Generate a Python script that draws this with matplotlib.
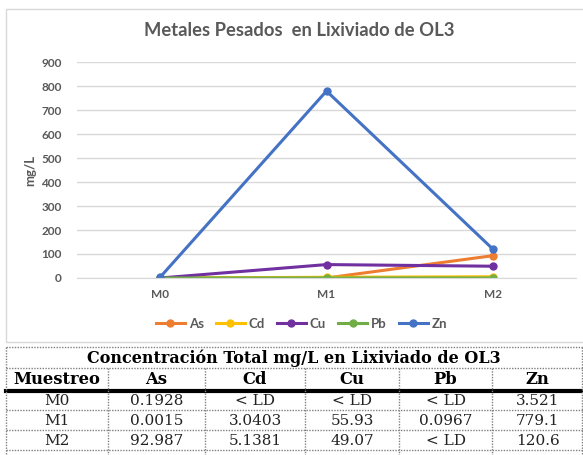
import matplotlib.pyplot as plt
from matplotlib.patches import Rectangle

muestreos = ["M0", "M1", "M2"]
metales = ["As", "Cd", "Cu", "Pb", "Zn"]
colores = ["#ED7D31", "#FFC000", "#7030A0", "#70AD47", "#4472C4"]
# values plotted (< LD drawn as 0)
as_vals = [0.1928, 0.0015, 92.987]
cd_vals = [0, 3.0403, 5.1381]
cu_vals = [0, 55.93, 49.07]
pb_vals = [0, 0.0967, 0]
zn_vals = [3.521, 779.1, 120.6]
series = [as_vals, cd_vals, cu_vals, pb_vals, zn_vals]

y_ticks = [0, 100, 200, 300, 400, 500, 600, 700, 800, 900]

# table contents
tabla_titulo = "Concentración Total mg/L en Lixiviado de OL3"
tabla_header = ["Muestreo", "As", "Cd", "Cu", "Pb", "Zn"]
tabla_filas = [
    ["M0", "0.1928", "< LD", "< LD", "< LD", "3.521"],
    ["M1", "0.0015", "3.0403", "55.93", "0.0967", "779.1"],
    ["M2", "92.987", "5.1381", "49.07", "< LD", "120.6"],
]

W, H = 583, 455
fig = plt.figure(figsize=(W / 100, H / 100), dpi=100)

# background layer in pixel coords
bg = fig.add_axes([0, 0, 1, 1])
bg.set_xlim(0, W)
bg.set_ylim(H, 0)
bg.axis("off")
bg.add_patch(Rectangle((6, 9), 600, 333, facecolor="white", edgecolor="#D9D9D9", lw=1))

gray = "#595959"
ax = fig.add_axes([77 / W, 1 - 278 / H, (576 - 77) / W, (278 - 62) / H])
ax.set_facecolor("none")
for vals, name, c in zip(series, metales, colores):
    ax.plot(range(len(muestreos)), vals, color=c, lw=2.2, marker="o", ms=5, label=name)
ax.set_xlim(-0.5, 2.5)
ax.set_ylim(0, 900)
ax.set_yticks(y_ticks)
ax.set_xticks(range(len(muestreos)))
ax.set_xticklabels(muestreos)
ax.grid(axis="y", color="#D9D9D9", lw=1)
ax.set_axisbelow(True)
for s in ["top", "right", "left"]:
    ax.spines[s].set_visible(False)
ax.spines["bottom"].set_color("#D9D9D9")
ax.tick_params(length=0, labelsize=8.5, labelcolor=gray)
ax.tick_params(axis="y", pad=11)
ax.tick_params(axis="x", pad=8)
for lab in ax.get_xticklabels() + ax.get_yticklabels():
    lab.set_fontfamily("Lato")
    lab.set_fontweight("bold")
ax.set_ylabel("mg/L", fontsize=9.5, color=gray, fontfamily="Lato", fontweight="bold", labelpad=4)
ax.set_title("Metales Pesados  en Lixiviado de OL3", fontsize=13.2, color=gray,
             fontfamily="Lato", fontweight="bold", pad=19, x=0.445)
leg = ax.legend(loc="center", bbox_to_anchor=(0.45, -0.213), ncol=5, frameon=False,
                handlelength=2.2, handletextpad=0.3, columnspacing=0.9,
                prop={"family": "Lato", "weight": "bold", "size": 9.5})
for t in leg.get_texts():
    t.set_color(gray)

# table
cols = [6, 108, 205, 305, 399, 492, 583]
rows = [347, 368, 390, 410, 430, 450]
dot = dict(color="#808080", lw=1, ls=(0, (1, 1)))
serif = "DejaVu Serif"
bg.add_patch(Rectangle((6, 347), 577, 108, facecolor="white", edgecolor="none", zorder=0.5))
for y in [347, 368, 410, 430, 450]:
    bg.plot([6, 583], [y, y], **dot)
bg.plot([6, 583], [390.5, 390.5], color="black", lw=3)
bg.plot([6, 6], [347, 455], **dot)
bg.plot([582, 582], [347, 455], **dot)
for x in cols[1:-1]:
    bg.plot([x, x], [368, 455], **dot)
bg.text(294, 358, tabla_titulo, ha="center", va="center", fontsize=11.5,
        fontweight="bold", fontfamily=serif)
for i, h in enumerate(tabla_header):
    bg.text((cols[i] + cols[i + 1]) / 2, 379.5, h, ha="center", va="center",
            fontsize=11.8, fontweight="bold", fontfamily=serif)
for r, fila in enumerate(tabla_filas):
    yc = (rows[r + 2] + rows[r + 3]) / 2 + 1
    for i, v in enumerate(fila):
        bg.text((cols[i] + cols[i + 1]) / 2, yc, v, ha="center", va="center",
                fontsize=11, fontfamily=serif, color="#222222")

fig.savefig("out.png", dpi=100)
